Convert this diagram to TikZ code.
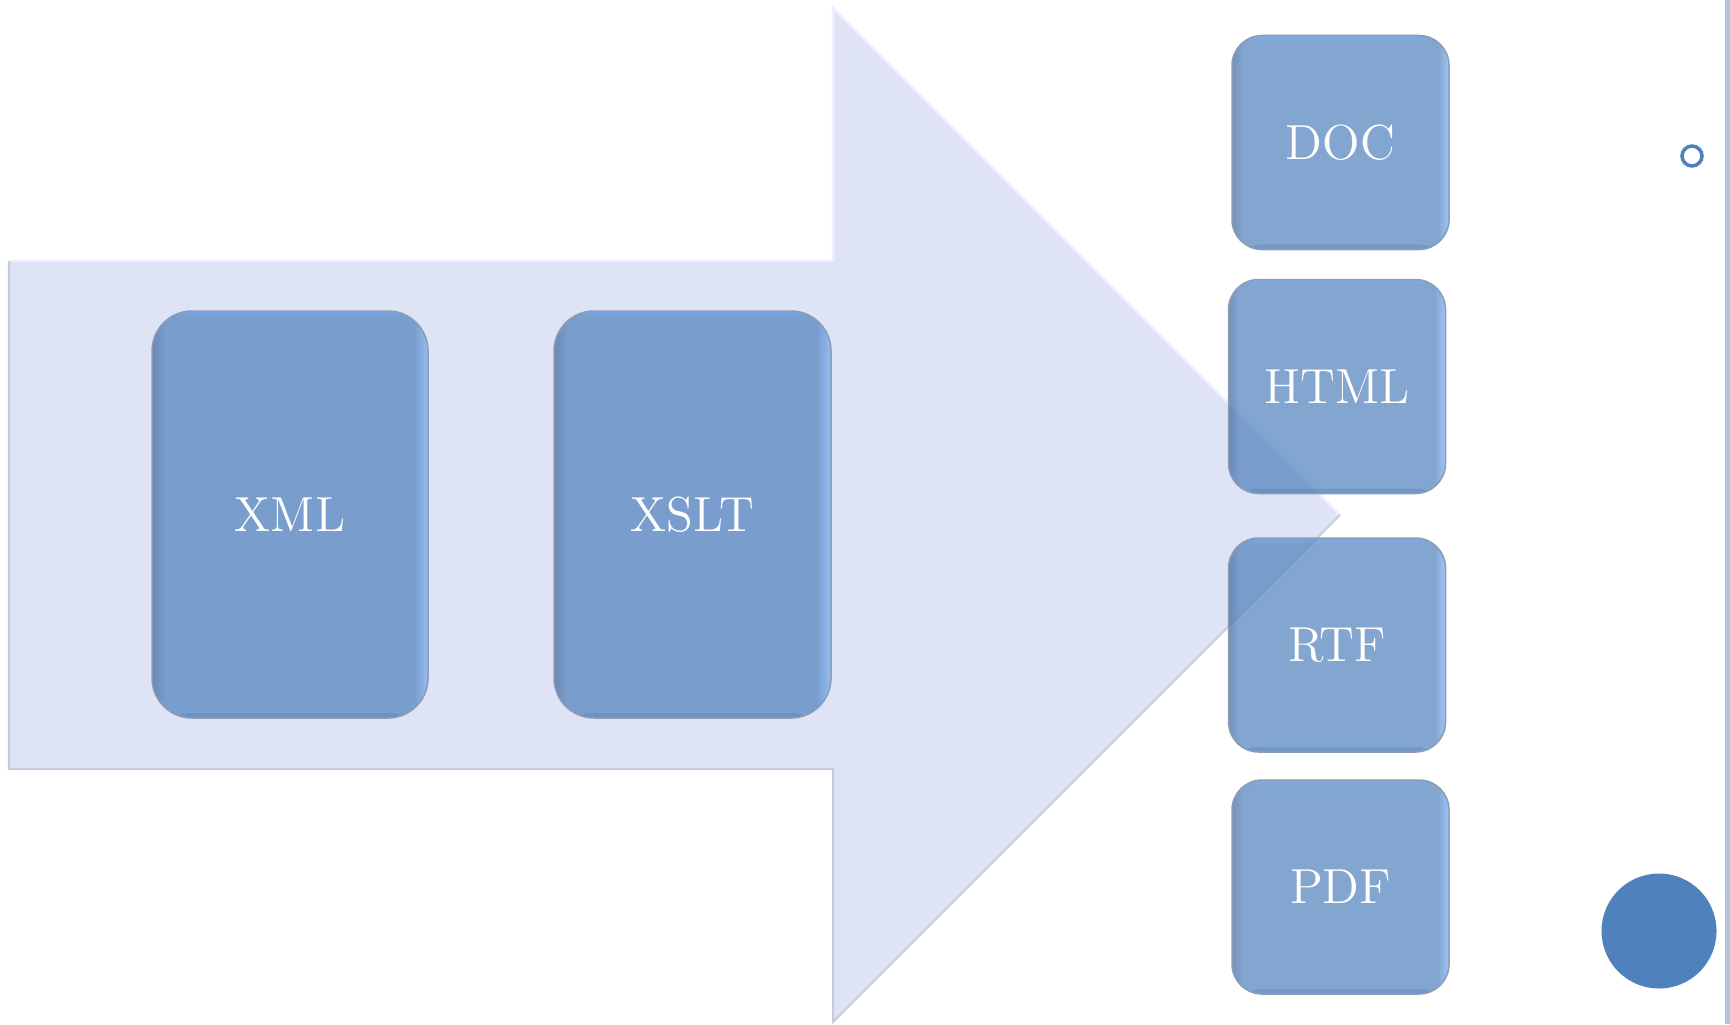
\documentclass[tikz,border=0pt]{standalone}
\usepackage{tikz}
\usepackage{xcolor}
\definecolor{arrowfill}{HTML}{DFE3F6}
\definecolor{arrowedge}{HTML}{C6CCDC}
\definecolor{arrowlight}{HTML}{EEF1FC}
\definecolor{accent}{HTML}{4F81BD}
\definecolor{boxdark}{HTML}{3B6296}
\definecolor{boxlight}{HTML}{78ACF4}
\definecolor{boxedge}{HTML}{8C9CB6}
\definecolor{sidebar}{HTML}{B5C4DE}
\pgfdeclarehorizontalshading{bevel}{100bp}{color(0bp)=(boxdark); color(25bp)=(boxdark); color(27.5bp)=(accent); color(72.5bp)=(accent); color(75bp)=(boxlight); color(100bp)=(boxlight)}

\begin{document}
\begin{tikzpicture}[box/.style={shade,shading=bevel,rounded corners=0.4cm,fill opacity=0.7,draw=boxedge,line width=0.015cm,text=white,text opacity=1,inner sep=0pt,font=\fontsize{14}{17}\selectfont,
        path picture={\fill[boxlight,opacity=0.35](path picture bounding box.north west)rectangle([yshift=-0.05cm]path picture bounding box.north east);
        \fill[boxdark,opacity=0.2](path picture bounding box.south west)rectangle([yshift=0.05cm]path picture bounding box.south east);}}]
        \useasboundingbox(0,0)rectangle(17.30,10.24);
        \fill[white](0,0)rectangle(17.30,10.24);
        % big arrow behind the boxes
        \fill[arrowfill](0.09,2.55)--(0.09,7.63)--(8.33,7.63)--(8.33,10.16)--(13.40,5.09)--(8.33,0.02)--(8.33,2.55)--cycle;
        \draw[arrowlight,line width=0.025cm](0.09,7.63)--(8.33,7.63)--(8.33,10.16)--(13.40,5.09);
        \draw[arrowedge,line width=0.02cm](13.40,5.09)--(8.33,0.02)--(8.33,2.55)--(0.09,2.55)--(0.09,7.63);
        \node[box,minimum width=2.76cm,minimum height=4.07cm](xml)at(2.90,5.095){XML};
        \node[box,minimum width=2.77cm,minimum height=4.07cm](xslt)at(6.925,5.095){XSLT};
        \foreach \nm/\x/\y/\lab in{doc/13.405/8.815/DOC,html/13.37/6.375/HTML,rtf/13.37/3.79/RTF,pdf/13.405/1.37/PDF}{
        \node[box,rounded corners=0.3cm,minimum width=2.17cm,minimum height=2.14cm](\nm)at(\x,\y){\lab};
        }
        \fill[sidebar](17.245,0)rectangle(17.30,10.24);
        \draw[accent,line width=0.035cm](16.92,8.68)circle(0.10);
        \fill[accent](16.59,0.93)circle(0.575);
    \end{tikzpicture}
\end{document}
